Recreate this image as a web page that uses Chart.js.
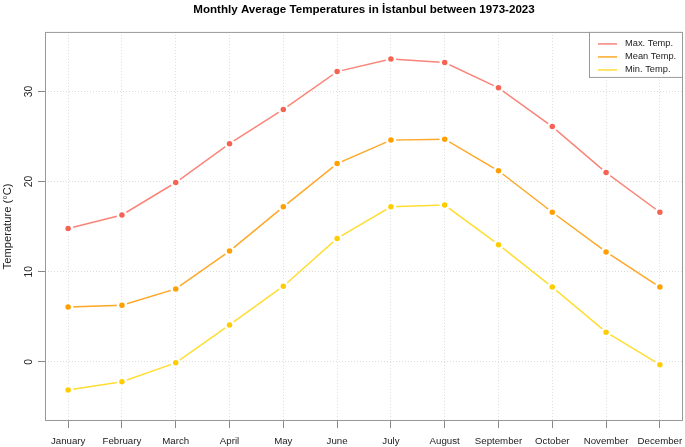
<!DOCTYPE html>
<html>
<head>
<meta charset="utf-8">
<style>
  html, body { margin: 0; padding: 0; background: #fff; }
  #chart { display: block; }
</style>
<script src="https://cdn.jsdelivr.net/npm/chart.js"></script>
</head>
<body>
<canvas id="chart" width="685" height="447"></canvas>
<script>
const months = ['January', 'February', 'March', 'April', 'May', 'June',
  'July', 'August', 'September', 'October', 'November', 'December'];
const maxTemp = [14.8, 16.3, 19.9, 24.2, 28.0, 32.2, 33.6, 33.2, 30.4, 26.1, 21.0, 16.6];
const meanTemp = [6.1, 6.3, 8.1, 12.3, 17.2, 22.0, 24.6, 24.7, 21.2, 16.6, 12.2, 8.3];
const minTemp = [-3.1, -2.2, -0.1, 4.1, 8.4, 13.7, 17.2, 17.4, 13.0, 8.3, 3.3, -0.3];
const yTicks = [0, 10, 20, 30];

const FONT = "'Liberation Sans', Arial, sans-serif";

function series(label, values, line, point) {
  return {
    label: label,
    data: values.map((v, i) => ({ x: i, y: v })),
    borderColor: line,
    borderWidth: 1.5,
    pointBackgroundColor: point,
    pointBorderColor: '#ffffff',
    pointBorderWidth: 2.5,
    pointRadius: 4,
    tension: 0
  };
}

// axis labels (y ones rotated like R), box and legend drawn on top
const extras = {
  id: 'extras',
  afterDraw(chart) {
    const ctx = chart.ctx;
    const area = chart.chartArea;
    const x = chart.scales.x;
    const y = chart.scales.y;
    ctx.save();

    ctx.fillStyle = '#222';
    ctx.textAlign = 'center';
    ctx.textBaseline = 'middle';

    ctx.font = '9.7px ' + FONT;
    months.forEach((m, i) => {
      ctx.fillText(m, x.getPixelForValue(i), area.bottom + 20);
    });

    ctx.font = '10.3px ' + FONT;
    yTicks.forEach(v => {
      ctx.save();
      ctx.translate(29, y.getPixelForValue(v));
      ctx.rotate(-Math.PI / 2);
      ctx.fillText(String(v), 0, 0);
      ctx.restore();
    });

    ctx.save();
    ctx.font = '11.2px ' + FONT;
    ctx.translate(8, (area.top + area.bottom) / 2);
    ctx.rotate(-Math.PI / 2);
    ctx.fillText('Temperature (°C)', 0, 0);
    ctx.restore();

    ctx.strokeStyle = '#999';
    ctx.lineWidth = 1;
    ctx.strokeRect(area.left + 0.5, area.top + 0.5, area.right - area.left - 1, area.bottom - area.top - 1);

    // legend
    const bx = area.right - 94, by = area.top, bw = 94, bh = 46;
    ctx.fillStyle = '#fff';
    ctx.fillRect(bx, by, bw, bh);
    ctx.strokeRect(bx + 0.5, by + 0.5, bw - 1, bh - 1);
    ctx.font = '9.3px ' + FONT;
    ctx.textAlign = 'left';
    chart.data.datasets.forEach((ds, i) => {
      const ly = by + 12 + i * 13;
      ctx.strokeStyle = ds.borderColor;
      ctx.lineWidth = 1.5;
      ctx.beginPath();
      ctx.moveTo(bx + 9, ly);
      ctx.lineTo(bx + 28, ly);
      ctx.stroke();
      ctx.fillStyle = '#222';
      ctx.fillText(ds.label, bx + 36, ly);
    });
    ctx.restore();
  }
};

new Chart(document.getElementById('chart'), {
  type: 'line',
  data: {
    datasets: [
      series('Max. Temp.', maxTemp, '#F9857A', '#F76353'),
      series('Mean Temp.', meanTemp, '#FFA726', '#FFA000'),
      series('Min. Temp.', minTemp, '#FFDD33', '#FFCC00')
    ]
  },
  options: {
    responsive: false,
    animation: false,
    devicePixelRatio: 1,
    layout: { autoPadding: false, padding: { right: 2, left: 0, top: 0, bottom: 0 } },
    plugins: {
      legend: { display: false },
      tooltip: { enabled: false },
      title: {
        display: true,
        fullSize: false,
        text: 'Monthly Average Temperatures in İstanbul between 1973-2023',
        color: '#000',
        font: { family: FONT, size: 11.6, weight: 'bold', lineHeight: 1.2 },
        padding: { top: 3, bottom: 15 }
      }
    },
    scales: {
      x: {
        type: 'linear',
        min: -0.43,
        max: 11.43,
        afterBuildTicks: s => { s.ticks = months.map((m, i) => ({ value: i })); },
        afterFit: s => { s.height = 26; },
        ticks: { display: false },
        grid: { color: '#dcdcdc', tickColor: '#888', tickLength: 7 },
        border: { display: false, dash: [1, 2] }
      },
      y: {
        type: 'linear',
        min: -6.55,
        max: 36.6,
        afterBuildTicks: s => { s.ticks = yTicks.map(v => ({ value: v })); },
        afterFit: s => { s.width = 45; },
        ticks: { display: false },
        grid: { color: '#dcdcdc', tickColor: '#888', tickLength: 7 },
        border: { display: false, dash: [1, 2] }
      }
    }
  },
  plugins: [extras]
});
</script>
</body>
</html>
